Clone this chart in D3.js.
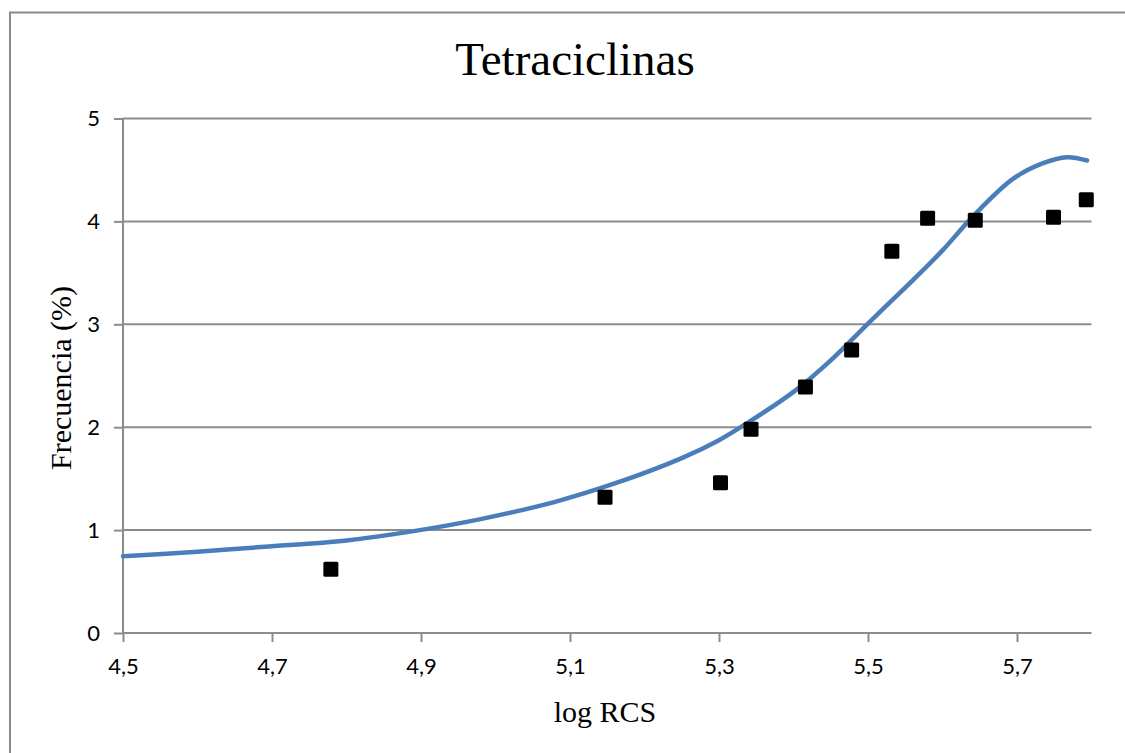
<!DOCTYPE html>
<html>
<head>
<meta charset="utf-8">
<script src="https://cdn.jsdelivr.net/npm/d3@7"></script>
<style>
  html, body { margin: 0; padding: 0; background: #fff; }
  svg { display: block; }
</style>
</head>
<body>
<svg id="chart" width="1125" height="753"></svg>
<script>
const titleText = "Tetraciclinas";
const xLabel = "log RCS";
const yLabel = "Frecuencia (%)";

const xTicks = [4.5, 4.7, 4.9, 5.1, 5.3, 5.5, 5.7];
const yTicks = [0, 1, 2, 3, 4, 5];

// observed points
const pointsX = [4.779, 5.147, 5.302, 5.343, 5.416, 5.478, 5.532, 5.580, 5.644, 5.749, 5.793];
const pointsY = [0.62, 1.32, 1.46, 1.98, 2.39, 2.75, 3.71, 4.03, 4.01, 4.04, 4.21];

// fitted curve
const curveX = [4.5, 4.6, 4.69, 4.8, 4.89, 4.98, 5.08, 5.16, 5.25, 5.3, 5.34, 5.4, 5.45, 5.5, 5.53, 5.56, 5.6, 5.64, 5.695, 5.735, 5.767, 5.794];
const curveY = [0.745, 0.79, 0.838, 0.9, 0.99, 1.107, 1.275, 1.453, 1.70, 1.874, 2.05, 2.343, 2.65, 3.007, 3.217, 3.427, 3.718, 4.042, 4.415, 4.566, 4.624, 4.592];

(function () {
const svg = d3.select("#chart");
const mLeft = 123, mRight = 1091.5, mTop = 118.5, mBottom = 633;
const gridColor = "#8c8c8c";

const x = d3.scaleLinear().domain([4.5, 5.8]).range([mLeft, mRight]);
const y = d3.scaleLinear().domain([0, 5]).range([mBottom, mTop]);

// outer frame (top and left edges visible)
svg.append("path")
  .attr("d", "M10,753V12.5H1125")
  .attr("fill", "none").attr("stroke", gridColor).attr("stroke-width", 2);

// title
svg.append("text")
  .attr("x", 575).attr("y", 75)
  .attr("text-anchor", "middle")
  .attr("font-family", "'Liberation Serif', 'Times New Roman', serif")
  .attr("font-size", 47)
  .attr("fill", "#000")
  .text(titleText);

// gridlines
svg.append("g").selectAll("line")
  .data(yTicks.filter(d => d > 0))
  .join("line")
  .attr("x1", mLeft).attr("x2", mRight)
  .attr("y1", d => y(d)).attr("y2", d => y(d))
  .attr("stroke", gridColor).attr("stroke-width", 2);

// y axis
const yAxis = d3.axisLeft(y).tickValues(yTicks).tickSize(9).tickPadding(14)
  .tickFormat(d3.format("d"));
const gy = svg.append("g").attr("transform", `translate(${mLeft},0)`).call(yAxis);
gy.select(".domain").attr("stroke", gridColor).attr("stroke-width", 2)
  .attr("d", `M0,${mBottom}V${mTop}`);
gy.selectAll(".tick line").attr("stroke", gridColor).attr("stroke-width", 2);
gy.selectAll(".tick text")
  .attr("font-family", "Lato, 'Open Sans', sans-serif")
  .attr("font-size", 22).attr("fill", "#000");

// x axis
const fmt = d => d3.format(".1f")(d).replace(".", ",");
const xAxis = d3.axisBottom(x).tickValues(xTicks).tickSize(9).tickPadding(16).tickFormat(fmt);
const gx = svg.append("g").attr("transform", `translate(0,${mBottom})`).call(xAxis);
gx.select(".domain").attr("stroke", gridColor).attr("stroke-width", 2)
  .attr("d", `M${mLeft},0H${mRight}`);
gx.selectAll(".tick line").attr("stroke", gridColor).attr("stroke-width", 2);
gx.selectAll(".tick text")
  .attr("font-family", "Lato, 'Open Sans', sans-serif")
  .attr("font-size", 22).attr("fill", "#000");

// axis titles
svg.append("text")
  .attr("x", 605).attr("y", 722)
  .attr("text-anchor", "middle")
  .attr("font-family", "'Liberation Serif', 'Times New Roman', serif")
  .attr("font-size", 30).attr("fill", "#000")
  .text(xLabel);

svg.append("text")
  .attr("transform", "translate(71,378) rotate(-90)")
  .attr("text-anchor", "middle")
  .attr("font-family", "'Liberation Serif', 'Times New Roman', serif")
  .attr("font-size", 30).attr("fill", "#000")
  .text(yLabel);

// curve
const curveData = curveX.map((d, i) => [d, curveY[i]]);
const line = d3.line().x(d => x(d[0])).y(d => y(d[1])).curve(d3.curveCatmullRom.alpha(0.5));
svg.append("path")
  .datum(curveData)
  .attr("d", line)
  .attr("fill", "none")
  .attr("stroke", "#4a7ebb")
  .attr("stroke-width", 4.5)
  .attr("stroke-linecap", "round")
  .attr("stroke-linejoin", "round");

// points
const pts = pointsX.map((d, i) => [d, pointsY[i]]);
const s = 15;
svg.append("g").selectAll("rect")
  .data(pts)
  .join("rect")
  .attr("x", d => x(d[0]) - s / 2)
  .attr("y", d => y(d[1]) - s / 2)
  .attr("width", s).attr("height", s)
  .attr("rx", 1.5)
  .attr("fill", "#000");
})();
</script>
</body>
</html>
